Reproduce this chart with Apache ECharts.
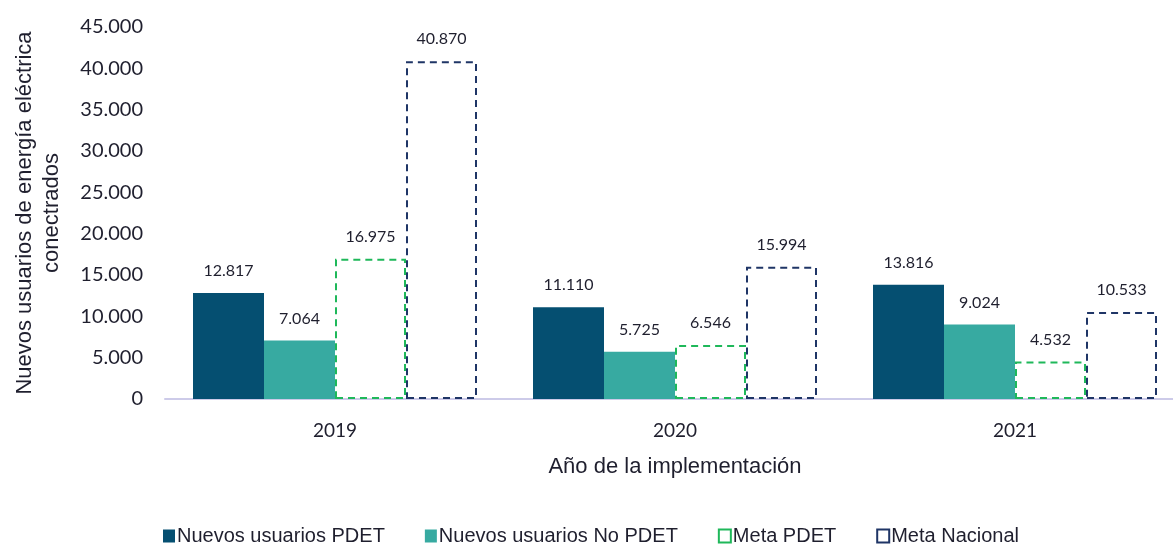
<!DOCTYPE html>
<html>
<head>
<meta charset="utf-8">
<script src="https://cdn.jsdelivr.net/npm/echarts@6/dist/echarts.min.js"></script>
<style>
  html, body { margin: 0; padding: 0; background: #fff; overflow: hidden; }
  #chart { width: 1185px; height: 546px; }
</style>
</head>
<body>
<div id="chart"></div>
<script>
// datos
const years = ['2019', '2020', '2021']
const nuevosPdet = [12817, 11110, 13816]
const nuevosNoPdet = [7064, 5725, 9024]
const metaPdet = [16975, 6546, 4532]
const metaNacional = [40870, 15994, 10533]

const narrow = '"Liberation Sans Narrow", "Arial Narrow", "Liberation Sans", sans-serif'
const numFont = 'Lato, "Open Sans", sans-serif'

// separador de miles con punto
function fmt(n) {
    return String(Math.round(n)).replace(/\B(?=(\d{3})+(?!\d))/g, '.')
}

let chart = echarts.init(document.getElementById('chart'))

const label = {
    show: true,
    position: 'top',
    distance: 14,
    fontFamily: numFont,
    fontSize: 16,
    color: '#1f1f2e',
    formatter: p => fmt(p.value)
}

let option = {
    animation: false,
    grid: {
        left: 165,
        top: 27,
        right: 0,
        bottom: 147
    },
    legend: {
        top: 521,
        left: 158,
        itemWidth: 12,
        itemHeight: 13,
        itemGap: 40,
        icon: 'rect',
        textStyle: {
            fontFamily: narrow,
            fontSize: 20,
            color: '#1f1f2e',
            padding: [0, 0, 0, -3]
        },
        data: ['Nuevos usuarios PDET', 'Nuevos usuarios No PDET', 'Meta PDET', 'Meta Nacional']
    },
    xAxis: {
        type: 'category',
        data: years,
        name: 'Año de la implementación',
        nameLocation: 'middle',
        nameGap: 57,
        nameTextStyle: {
            fontFamily: narrow,
            fontSize: 22,
            color: '#1f1f2e'
        },
        axisTick: { show: false },
        axisLine: { lineStyle: { color: '#cdcbe9', width: 2 } },
        axisLabel: {
            margin: 22,
            fontFamily: numFont,
            fontSize: 19,
            color: '#1f1f2e'
        }
    },
    yAxis: {
        type: 'value',
        min: 0,
        max: 45000,
        interval: 5000,
        name: 'Nuevos usuarios de energía eléctrica\nconectrados',
        nameLocation: 'middle',
        nameRotate: 90,
        nameGap: 100,
        nameTextStyle: {
            fontFamily: narrow,
            fontSize: 22,
            lineHeight: 27,
            color: '#1f1f2e'
        },
        splitLine: { show: false },
        axisLine: { show: false },
        axisTick: { show: false },
        axisLabel: {
            margin: 22,
            fontFamily: numFont,
            fontSize: 20,
            color: '#1f1f2e',
            formatter: v => fmt(v)
        }
    },
    series: [
        {
            name: 'Nuevos usuarios PDET',
            type: 'bar',
            barWidth: 71,
            barGap: '0%',
            data: nuevosPdet,
            itemStyle: { color: '#054f71' },
            label: label
        },
        {
            name: 'Nuevos usuarios No PDET',
            type: 'bar',
            barWidth: 71,
            barGap: '0%',
            data: nuevosNoPdet,
            itemStyle: { color: '#37aaa1' },
            label: label
        },
        {
            name: 'Meta PDET',
            type: 'bar',
            barWidth: 71,
            barGap: '0%',
            data: metaPdet,
            itemStyle: {
                color: 'rgba(255,255,255,0)',
                borderColor: '#1fb85a',
                borderWidth: 2,
                borderType: [7, 5]
            },
            label: label
        },
        {
            name: 'Meta Nacional',
            type: 'bar',
            barWidth: 71,
            barGap: '0%',
            data: metaNacional,
            itemStyle: {
                color: 'rgba(255,255,255,0)',
                borderColor: '#1f3566',
                borderWidth: 2,
                borderType: [7, 5]
            },
            label: label
        }
    ]
}
chart.setOption(option)
</script>
</body>
</html>
